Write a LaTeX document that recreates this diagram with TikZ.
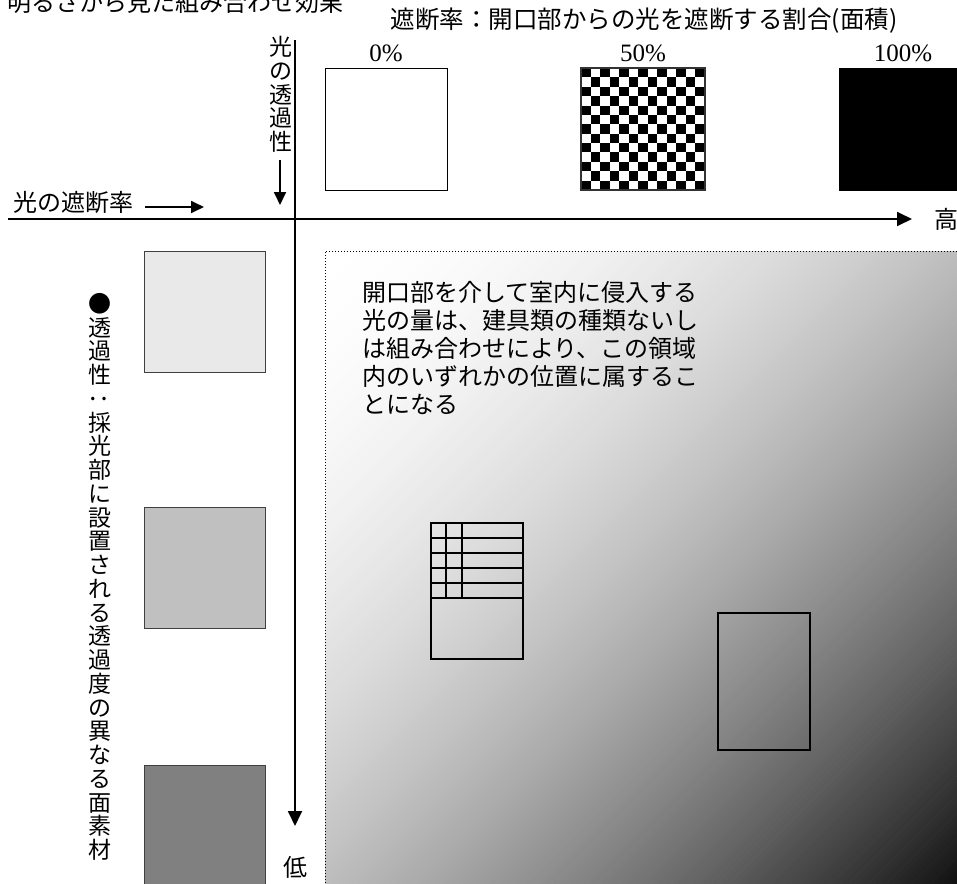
\documentclass[tikz,border=0pt]{standalone}
\usepackage{fontspec}
\usepackage{graphicx}
\setmainfont{Liberation Serif}
\newfontfamily\jp{Noto Sans CJK JP}
\usetikzlibrary{arrows.meta}
\definecolor{lightsw}{HTML}{E9E9E9}
\definecolor{midsw}{HTML}{C0C0C0}
\definecolor{darksw}{HTML}{808080}
\begin{document}
\begin{tikzpicture}[x=1pt,y=-1pt,
  jptext/.style={font=\jp\fontsize{24}{28}\selectfont, inner sep=0pt},
  vjp/.style={font=\jp\fontsize{23}{23.75}\selectfont, inner sep=0pt, align=center},
  numtext/.style={font=\fontsize{25}{28}\selectfont, inner sep=0pt},
  axisline/.style={line width=1.8pt, -{Triangle[length=15pt,width=14pt]}},
  smallarrow/.style={line width=1.8pt, -{Triangle[length=13pt,width=12pt]}},
  swatch/.style={draw=black!75, line width=0.8pt, minimum width=121pt, minimum height=121pt, inner sep=0pt},
  winline/.style={draw=black, line width=1.7pt},
  region/.style={draw=black, line width=1pt, dash pattern=on 1pt off 2pt}]
\useasboundingbox (0,0) rectangle (957,883);
% gradient region
\begin{scope}
\clip (325,251) rectangle (957,883);
\fill[white] (325,251) rectangle (957,883);
\foreach \i in {0,...,199}{
  \pgfmathsetmacro\sa{576+\i*6.32}
  \pgfmathsetmacro\sb{\sa+6.9}
  \pgfmathsetmacro\pc{93*((\i+0.5)/200)^1.85}
  \fill[black!\pc] (\sa-200,200) -- (\sa-950,950) -- (\sb-950,950) -- (\sb-200,200) -- cycle;
}
\end{scope}
\coordinate (rTL) at (325,251);
\coordinate (rTR) at (957,251);
\coordinate (rBL) at (325,883);
\draw[region] (rBL) -- (rTL) -- (rTR);
% title and labels
\node[jptext, anchor=base west] (title) at (7,11.5) {明るさから見た組み合わせ効果};
\node[jptext, font=\jp\fontsize{24.5}{28}\selectfont] (blocklabel) at (644,21) {遮断率：開口部からの光を遮断する割合(面積)};
\node[numtext] (p0) at (386,53) {0\%};
\node[numtext] (p50) at (643,53) {50\%};
\node[numtext] (p100) at (903,53) {100\%};
% top swatches
\node[draw=black, line width=0.8pt, fill=white, minimum width=122pt, minimum height=122pt, inner sep=0pt] (sq0) at (386,129) {};
\foreach \i in {0,...,12}{
  \foreach \j in {0,...,12}{
    \pgfmathtruncatemacro\parity{mod(\i+\j,2)}
    \ifnum\parity=0
      \fill[black] (581+\i*9.54,68+\j*9.385) rectangle ++(9.54,9.385);
    \fi
  }
}
\node[draw=black!80, line width=1.2pt, minimum width=124pt, minimum height=122pt, inner sep=0pt] (sq50) at (643,129) {};
\node[draw=black, fill=black, minimum width=122pt, minimum height=122pt, inner sep=0pt] (sq100) at (900,129) {};
% left swatches
\node[swatch, fill=lightsw] (g1) at (204.5,311.5) {};
\node[swatch, fill=midsw] (g2) at (204.5,567.5) {};
\node[swatch, fill=darksw] (g3) at (204.5,825.5) {};
% axes
\coordinate (hx0) at (8,219);
\coordinate (hx1) at (912,219);
\coordinate (vy0) at (295,40);
\coordinate (vy1) at (295,826);
\draw[axisline] (hx0) -- (hx1);
\draw[axisline] (vy0) -- (vy1);
\node[jptext] (high) at (946,219) {高};
\node[jptext] (low) at (295,867) {低};
% axis captions
\node[jptext, anchor=base west] (cutlabel) at (13,211.5) {光の遮断率};
\coordinate (ha0) at (145,207);
\coordinate (ha1) at (204,207);
\draw[smallarrow] (ha0) -- (ha1);
\node[vjp, anchor=north] (translabel) at (281,36) {光\\の\\透\\過\\性};
\coordinate (va0) at (280,160);
\coordinate (va1) at (280,205);
\draw[smallarrow] (va0) -- (va1);
\node[vjp, anchor=north] (vlabel) at (100,293) {●\\透\\過\\性\\\rotatebox[origin=c]{90}{：}\\採\\光\\部\\に\\設\\置\\さ\\れ\\る\\透\\過\\度\\の\\異\\な\\る\\面\\素\\材};
% body text
\node[jptext, anchor=north west, align=left] (body) at (362,281) {開口部を介して室内に侵入する\\光の量は、建具類の種類ないし\\は組み合わせにより、この領域\\内のいずれかの位置に属するこ\\とになる};
% window icons
\draw[winline] (431,523) rectangle (523,659);
\foreach \yy in {538,553,568,583,598}{
  \draw[winline] (431,\yy) -- (523,\yy);
}
\draw[winline] (446,523) -- (446,598);
\draw[winline] (462,523) -- (462,598);
\node[draw=black, line width=1.7pt, minimum width=92pt, minimum height=137pt, inner sep=0pt] (plainwin) at (764,681.5) {};
\end{tikzpicture}
\end{document}
